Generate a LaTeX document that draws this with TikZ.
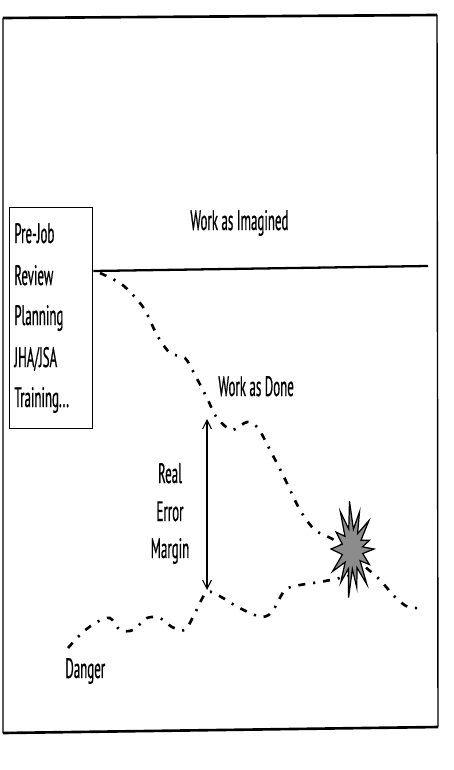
\documentclass[tikz,border=0pt]{standalone}
\usepackage{fontspec}
\setmainfont[FakeStretch=0.46,FakeBold=0.6]{PT Sans}
\usetikzlibrary{arrows.meta}

\begin{document}
\begin{tikzpicture}[x=0.02cm,y=-0.02cm,>={Straight Barb[length=5pt,width=5pt]},
    lbl/.style={font=\fontsize{16}{18}\selectfont,inner sep=0pt},
    dashdot/.style={line width=1.5pt,dash pattern=on 4pt off 4.5pt on 1.2pt off 4.5pt}]
    \useasboundingbox (0,0) rectangle (453,770);
    % frame
    \draw [line width=1.5pt] (3,18) -- (437,15) (438,727) -- (3,733);
    \draw [line width=0.8pt] (3,18) -- (3,733) (437,15) -- (438,727);
    % box on the left
    \node [draw,line width=0.8pt,anchor=north west,minimum width=1.66cm,minimum height=4.42cm,inner sep=0pt] (plan) at (9,207) {};
    \foreach \y/\t [count=\i] in {243/{Pre-Job},285/{Review},325/{Planning},367/{JHA/JSA},407/{Training{.}{.}{.}}}
        \node [lbl,anchor=base west] (l\i) at (14,\y) {\t};
    % work as imagined
    \node [lbl,anchor=base west] (wai) at (190,230) {Work as Imagined};
    \draw [line width=1.3pt] (plan.east |- 0,271) -- (428,266);
    % work as done
    \draw [dashdot] plot[smooth,tension=0.5] coordinates {(100,273) (120,283) (133,295) (145,310) (157,335) (170,353) (185,358) (195,375) (207,398) (217,418) (232,430) (247,422) (258,428) (270,450) (283,475) (300,510) (315,530) (334,540) (352,556) (378,578) (395,597) (408,607) (422,608)};
    \node [lbl,anchor=base west] (wad) at (218,396) {Work as Done};
    % danger
    \draw [dashdot] plot[smooth,tension=0.5] coordinates {(68,648) (83,632) (97,622) (110,618) (120,630) (133,630) (147,618) (160,618) (172,627) (185,630) (195,613) (207,592) (223,598) (236,606) (250,613) (262,617) (272,612) (285,590) (300,585) (320,582) (340,578) (352,575)};
    \node [lbl,anchor=base west] (dgr) at (65,678) {Danger};
    % margin
    \coordinate (mtop) at (207,419);
    \coordinate (mbot) at (207,590);
    \draw [<->,line width=0.6pt] (mtop) -- (mbot);
    \node [lbl,anchor=base] (m1) at (170,483) {Real};
    \node [lbl,anchor=base] (m2) at (170,521) {Error};
    \node [lbl,anchor=base] (m3) at (170,558) {Margin};
    % the event
    \begin{scope}[shift={(352,549)},xscale=0.5]
    \draw [fill=black!45,line width=0.7pt,line join=miter] (0:44) -- (12:22) -- (24:38) -- (36:20) -- (50:46) -- (62:21) -- (76:40) -- (88:20) -- (98:49) -- (110:21) -- (124:40) -- (136:19) -- (150:45) -- (164:20) -- (180:42) -- (194:20) -- (208:36) -- (222:19) -- (238:44) -- (252:21) -- (264:48) -- (278:20) -- (292:40) -- (306:19) -- (320:44) -- (334:20) -- (346:36) -- (354:21) -- cycle;
    \end{scope}
\end{tikzpicture}
\end{document}
